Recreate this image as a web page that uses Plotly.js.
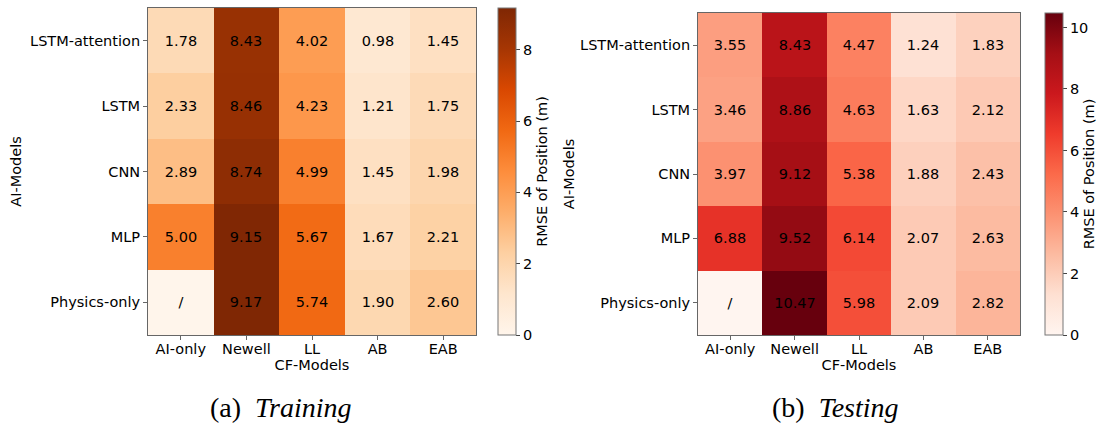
<!DOCTYPE html>
<html><head><meta charset="utf-8">
<script src="https://cdn.plot.ly/plotly-3.0.1.min.js"></script>
<style>html,body{margin:0;padding:0;background:#fff;}#chart{width:1102px;height:424px;}</style>
</head><body><div id="chart"></div>
<script>
const cfModels = ["AI-only", "Newell", "LL", "AB", "EAB"];
const aiModels = ["LSTM-attention", "LSTM", "CNN", "MLP", "Physics-only"];
// null = not applicable ("/")
const trainLSTMatt = [1.78, 8.43, 4.02, 0.98, 1.45];
const trainLSTM    = [2.33, 8.46, 4.23, 1.21, 1.75];
const trainCNN     = [2.89, 8.74, 4.99, 1.45, 1.98];
const trainMLP     = [5.00, 9.15, 5.67, 1.67, 2.21];
const trainPhys    = [null, 9.17, 5.74, 1.90, 2.60];
const testLSTMatt  = [3.55, 8.43, 4.47, 1.24, 1.83];
const testLSTM     = [3.46, 8.86, 4.63, 1.63, 2.12];
const testCNN      = [3.97, 9.12, 5.38, 1.88, 2.43];
const testMLP      = [6.88, 9.52, 6.14, 2.07, 2.63];
const testPhys     = [null, 10.47, 5.98, 2.09, 2.82];
const cbTitle = "RMSE of Position (m)";

const oranges = [[0,"#fff5eb"],[0.125,"#fee6ce"],[0.25,"#fdd0a2"],[0.375,"#fdae6b"],[0.5,"#fd8d3c"],[0.625,"#f16913"],[0.75,"#d94801"],[0.875,"#a63603"],[1,"#7f2704"]];
const reds = [[0,"#fff5f0"],[0.125,"#fee0d2"],[0.25,"#fcbba1"],[0.375,"#fc9272"],[0.5,"#fb6a4a"],[0.625,"#ef3b2c"],[0.75,"#cb181d"],[0.875,"#a50f15"],[1,"#67000d"]];

const W = 1102, H = 424;
const px = v => v / W, py = v => 1 - v / H;

function build(rows) {
  const z = rows.map(r => r.map(v => v === null ? 0 : v));
  const text = rows.map(r => r.map(v => v === null ? "/" : v.toFixed(2)));
  const zmax = Math.max(...rows.flat().filter(v => v !== null));
  return {z, text, zmax};
}
const tr = build([trainLSTMatt, trainLSTM, trainCNN, trainMLP, trainPhys]);
const te = build([testLSTMatt, testLSTM, testCNN, testMLP, testPhys]);

const font = {family: "DejaVu Sans", size: 14.5, color: "#000"};

function cb(x, y0, y1, dtick) {
  return {
    x: px(x), xanchor: "left", xpad: 0, ypad: 0,
    y: (py(y0) + py(y1)) / 2, yanchor: "middle",
    len: py(y0) - py(y1), lenmode: "fraction",
    thickness: 18, outlinewidth: 1, outlinecolor: "#777",
    ticks: "outside", ticklen: 4, tickcolor: "#444", dtick: dtick, tick0: 0,
    tickfont: font,
    title: {text: cbTitle, side: "right", font: font}
  };
}

const traces = [
  {type: "heatmap", x: cfModels, y: aiModels, z: tr.z, text: tr.text,
   texttemplate: "%{text}", textfont: font, zmin: 0, zmax: tr.zmax,
   colorscale: oranges, xaxis: "x", yaxis: "y",
   colorbar: cb(498, 8, 335, 2)},
  {type: "heatmap", x: cfModels, y: aiModels, z: te.z, text: te.text,
   texttemplate: "%{text}", textfont: font, zmin: 0, zmax: te.zmax,
   colorscale: reds, xaxis: "x2", yaxis: "y2",
   colorbar: cb(1045, 13, 335, 2)}
];

function xax(d) {
  return {domain: d, showline: true, mirror: true, linecolor: "#666", linewidth: 1,
    ticks: "outside", ticklen: 4, tickcolor: "#666", tickfont: font, showgrid: false, zeroline: false,
    ticklabelstandoff: -3,
    title: {text: "CF-Models", font: font, standoff: 0}};
}
function yax(d, anchor, standoff) {
  return {domain: d, anchor: anchor, autorange: "reversed", showline: true, mirror: true, linecolor: "#666", linewidth: 1,
    ticks: "outside", ticklen: 4, tickcolor: "#666", tickfont: font, showgrid: false, zeroline: false,
    title: {text: "AI-Models", font: font, standoff: standoff}};
}

const capFont = {family: "Liberation Serif", size: 28, color: "#000"};
const layout = {
  width: W, height: H, margin: {l: 0, r: 0, t: 0, b: 0},
  paper_bgcolor: "#fff", plot_bgcolor: "#fff",
  xaxis: Object.assign(xax([px(148), px(476)]), {anchor: "y"}),
  yaxis: yax([py(335), py(8)], "x", 4),
  xaxis2: Object.assign(xax([px(698), px(1020)]), {anchor: "y2"}),
  yaxis2: yax([py(335), py(13)], "x2", 1),
  annotations: [
    {text: "(a)&nbsp;&nbsp;<i>Training</i>", x: px(281), y: py(407), xref: "paper", yref: "paper",
     xanchor: "center", yanchor: "middle", showarrow: false, font: capFont},
    {text: "(b)&nbsp;&nbsp;<i>Testing</i>", x: px(835), y: py(407), xref: "paper", yref: "paper",
     xanchor: "center", yanchor: "middle", showarrow: false, font: capFont}
  ]
};

Plotly.newPlot("chart", traces, layout, {displayModeBar: false, staticPlot: true});
</script>
</body></html>
